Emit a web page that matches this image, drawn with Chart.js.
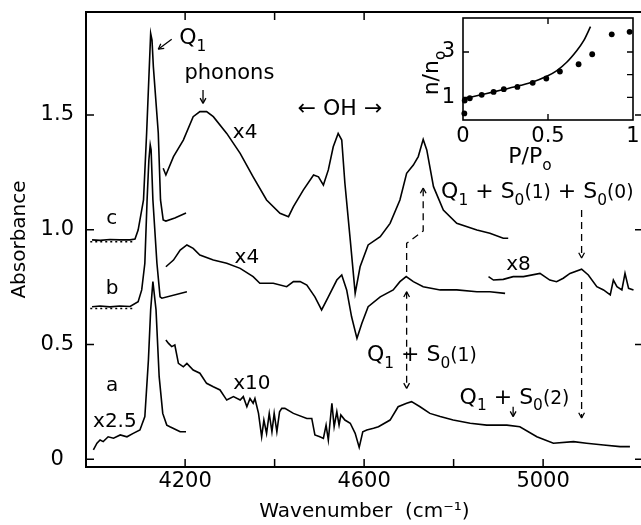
<!DOCTYPE html>
<html>
<head>
<meta charset="utf-8">
<script src="https://cdn.jsdelivr.net/npm/chart.js@4.4.1/dist/chart.umd.min.js"></script>
<style>
  html, body { margin: 0; padding: 0; background: #fff; overflow: hidden; }
  #wrap { position: relative; width: 645px; height: 525px; }
  .box { position: absolute; }
</style>
</head>
<body>
<div id="wrap">
  <div class="box" style="left:0;top:0;width:645px;height:525px"><canvas id="main"></canvas></div>
  <div class="box" style="left:420px;top:14px;width:225px;height:156px"><canvas id="inset"></canvas></div>
</div>
<script>
// spectrum c (top), Q1 peak and x4 part
const cPeakWn = [3992, 4010, 4032, 4054, 4077, 4088, 4095, 4107, 4114, 4120, 4123, 4126, 4129, 4140, 4145, 4151, 4157, 4177, 4202];
const cPeakAbs = [0.956, 0.954, 0.958, 0.956, 0.956, 0.960, 0.999, 1.130, 1.422, 1.711, 1.856, 1.827, 1.711, 1.422, 1.130, 1.043, 1.038, 1.051, 1.073];
const cBaseWn = [3988, 4088];
const cBaseAbs = [0.948, 0.948];
const cX4Wn = [4151, 4157, 4174, 4196, 4218, 4233, 4248, 4263, 4293, 4323, 4352, 4382, 4412, 4431, 4442, 4464, 4487, 4498, 4509, 4520, 4531, 4542, 4550, 4557, 4569, 4580, 4591, 4609, 4636, 4658, 4680, 4695, 4710, 4721, 4732, 4740, 4755, 4777, 4807, 4852, 4881, 4911, 4922];
const cX4Abs = [1.268, 1.239, 1.319, 1.391, 1.493, 1.515, 1.515, 1.493, 1.420, 1.333, 1.231, 1.130, 1.072, 1.057, 1.101, 1.173, 1.239, 1.231, 1.195, 1.261, 1.362, 1.420, 1.391, 1.204, 0.956, 0.723, 0.839, 0.934, 0.970, 1.028, 1.130, 1.246, 1.282, 1.319, 1.394, 1.348, 1.188, 1.086, 1.028, 0.999, 0.985, 0.963, 0.963];

// spectrum b
const bPeakWn = [3992, 4010, 4032, 4054, 4077, 4095, 4103, 4110, 4115, 4119, 4122, 4124, 4128, 4137, 4144, 4148, 4204];
const bPeakAbs = [0.665, 0.668, 0.664, 0.668, 0.666, 0.687, 0.738, 0.854, 1.130, 1.304, 1.370, 1.348, 1.130, 0.854, 0.708, 0.702, 0.730];
const bBaseWn = [3988, 4088];
const bBaseAbs = [0.657, 0.657];
const bX4Wn = [4157, 4174, 4189, 4204, 4218, 4233, 4263, 4293, 4323, 4352, 4367, 4397, 4427, 4442, 4457, 4472, 4490, 4505, 4520, 4539, 4550, 4561, 4572, 4584, 4595, 4609, 4636, 4665, 4680, 4694, 4710, 4732, 4770, 4807, 4852, 4881, 4915];
const bX4Abs = [0.839, 0.868, 0.912, 0.934, 0.919, 0.890, 0.868, 0.854, 0.832, 0.796, 0.767, 0.767, 0.752, 0.774, 0.774, 0.759, 0.708, 0.651, 0.708, 0.781, 0.803, 0.738, 0.621, 0.527, 0.593, 0.665, 0.708, 0.738, 0.774, 0.796, 0.774, 0.752, 0.738, 0.738, 0.730, 0.730, 0.723];
const bX8Wn = [4878, 4889, 4911, 4933, 4956, 4993, 5015, 5030, 5045, 5060, 5086, 5101, 5120, 5135, 5150, 5157, 5165, 5176, 5183, 5191, 5202];
const bX8Abs = [0.796, 0.781, 0.784, 0.796, 0.796, 0.810, 0.781, 0.774, 0.789, 0.810, 0.828, 0.803, 0.752, 0.738, 0.716, 0.781, 0.752, 0.738, 0.810, 0.745, 0.738];

// spectrum a
const aPeakWn = [3995, 4003, 4010, 4017, 4028, 4040, 4055, 4070, 4084, 4099, 4110, 4118, 4123, 4128, 4135, 4142, 4150, 4159, 4166, 4181, 4189, 4202];
const aPeakAbs = [0.041, 0.070, 0.084, 0.077, 0.098, 0.092, 0.106, 0.098, 0.113, 0.128, 0.186, 0.433, 0.651, 0.774, 0.651, 0.360, 0.200, 0.149, 0.142, 0.128, 0.120, 0.120];
const aX10Wn = [4157, 4163, 4170, 4177, 4185, 4196, 4204, 4218, 4233, 4248, 4263, 4278, 4293, 4308, 4323, 4330, 4338, 4345, 4352, 4356, 4364, 4371, 4376, 4382, 4388, 4394, 4399, 4405, 4411, 4416, 4423, 4442, 4472, 4483, 4490, 4501, 4509, 4515, 4520, 4528, 4533, 4539, 4544, 4548, 4557, 4569, 4580, 4589, 4597, 4606, 4621, 4632, 4658, 4676, 4695, 4706, 4725, 4747, 4770, 4799, 4837, 4874, 4919, 4948, 4986, 5023, 5068, 5097, 5135, 5172, 5194];
const aX10Abs = [0.520, 0.505, 0.491, 0.498, 0.418, 0.403, 0.418, 0.389, 0.375, 0.331, 0.316, 0.302, 0.258, 0.273, 0.258, 0.273, 0.229, 0.265, 0.244, 0.265, 0.200, 0.098, 0.171, 0.113, 0.200, 0.120, 0.200, 0.120, 0.207, 0.222, 0.222, 0.200, 0.178, 0.178, 0.106, 0.098, 0.091, 0.149, 0.084, 0.244, 0.142, 0.207, 0.149, 0.193, 0.171, 0.157, 0.113, 0.052, 0.120, 0.128, 0.135, 0.142, 0.171, 0.229, 0.244, 0.251, 0.229, 0.200, 0.186, 0.171, 0.157, 0.149, 0.149, 0.142, 0.098, 0.070, 0.077, 0.070, 0.062, 0.055, 0.055];

// inset: n/no against P/Po
const insetP = [0.008, 0.01, 0.04, 0.11, 0.18, 0.24, 0.32, 0.41, 0.49, 0.57, 0.68, 0.76, 0.875, 0.98];
const insetN = [0.29, 0.86, 0.96, 1.11, 1.24, 1.36, 1.46, 1.64, 1.83, 2.14, 2.46, 2.90, 3.78, 3.89];
const fitP = [0, 0.10, 0.18, 0.26, 0.34, 0.41, 0.49, 0.55, 0.61, 0.67, 0.71, 0.75];
const fitN = [0.93, 1.10, 1.24, 1.38, 1.53, 1.68, 1.92, 2.17, 2.55, 3.07, 3.50, 4.12];

// ticks
const xTickValues = [4200, 4400, 4600, 4800, 5000];
const xTickLabels = ['4200', '', '4600', '', '5000'];
const xTopTicks = [4200, 4400, 4600];
const yTickValues = [0, 0.5, 1.0, 1.5];
const yTickLabels = ['0', '0.5', '1.0', '1.5'];
const insetXTicks = [0, 0.5, 1];
const insetXLabels = ['0', '0.5', '1'];
const insetYTicks = [1, 3];
const insetYLabels = ['1', '3'];
const insetYRightTicks = [1, 2, 3];

const FONT = '"DejaVu Sans", sans-serif';
const pts = (xs, ys) => xs.map((v, i) => ({ x: v, y: ys[i] }));

// annotation text and arrows, placed in data units
const notes = [
  { x: 4217, y: 1.843, size: 22, parts: [['Q'], ['1', 'sub']] },
  { x: 4299, y: 1.692, size: 21, parts: [['phonons']] },
  { x: 4334, y: 1.430, size: 20, parts: [['x4']] },
  { x: 4546, y: 1.535, size: 22, parts: [['← OH →']] },
  { x: 4036, y: 1.057, size: 20, parts: [['c']] },
  { x: 4037, y: 0.752, size: 20, parts: [['b']] },
  { x: 4037, y: 0.331, size: 20, parts: [['a']] },
  { x: 4043, y: 0.171, size: 20, parts: [['x2.5']] },
  { x: 4338, y: 0.886, size: 20, parts: [['x4']] },
  { x: 4349, y: 0.338, size: 20, parts: [['x10']] },
  { x: 4945, y: 0.854, size: 20, parts: [['x8']] },
  { x: 4987, y: 1.173, size: 22, parts: [['Q'], ['1', 'sub'], [' + S'], ['0', 'sub'], ['(1)', 'sm'], [' + S'], ['0', 'sub'], ['(0)', 'sm']] },
  { x: 4729, y: 0.463, size: 22, parts: [['Q'], ['1', 'sub'], [' + S'], ['0', 'sub'], ['(1)', 'sm']] },
  { x: 4936, y: 0.276, size: 22, parts: [['Q'], ['1', 'sub'], [' + S'], ['0', 'sub'], ['(2)', 'sm']] }
];
const guides = [
  { pts: [[4695, 0.816], [4695, 0.941], [4732, 0.995], [4732, 1.182]] },
  { pts: [[4695, 0.730], [4695, 0.309]], both: true },
  { pts: [[5086, 1.086], [5086, 0.877]] },
  { pts: [[5086, 0.773], [5086, 0.180]] }
];
const arrows = [
  { from: [4170, 1.830], to: [4140, 1.787] },
  { from: [4240, 1.609], to: [4240, 1.551] },
  { from: [4933, 0.229], to: [4933, 0.186] }
];

function drawRich(ctx, parts, cx, cy, size) {
  const sizes = parts.map(p => p[1] === 'sub' ? size * 0.7 : p[1] === 'sm' ? size * 0.85 : size);
  let w = 0;
  parts.forEach((p, i) => { ctx.font = sizes[i] + 'px ' + FONT; w += ctx.measureText(p[0]).width; });
  let x = cx - w / 2;
  const base = cy + size * 0.36;
  ctx.textAlign = 'left';
  ctx.textBaseline = 'alphabetic';
  parts.forEach((p, i) => {
    ctx.font = sizes[i] + 'px ' + FONT;
    ctx.fillText(p[0], x, base + (p[1] === 'sub' ? size * 0.3 : 0));
    x += ctx.measureText(p[0]).width;
  });
}

function head(ctx, tx, ty, fx, fy, len) {
  const ang = Math.atan2(ty - fy, tx - fx);
  ctx.beginPath();
  [-1, 1].forEach(s => {
    const a = ang + Math.PI + s * 0.5;
    ctx.moveTo(tx, ty);
    ctx.lineTo(tx + len * Math.cos(a), ty + len * Math.sin(a));
  });
  ctx.stroke();
}

// keep the plot box where it is: no extra room for half tick labels
const noPad = s => { s.paddingTop = 0; s.paddingBottom = 0; s.paddingLeft = 0; s.paddingRight = 0; };

const mainDecor = {
  id: 'mainDecor',
  afterDraw(chart) {
    const { ctx, chartArea: a, scales: { x, y } } = chart;
    const px = v => x.getPixelForValue(v);
    const py = v => y.getPixelForValue(v);
    ctx.save();
    ctx.strokeStyle = '#000';
    ctx.fillStyle = '#000';
    ctx.lineWidth = 2;
    ctx.strokeRect(a.left, a.top, a.right - a.left, a.bottom - a.top);

    ctx.lineWidth = 1.5;
    ctx.beginPath();
    xTickValues.forEach(v => { ctx.moveTo(px(v), a.bottom); ctx.lineTo(px(v), a.bottom - 8); });
    xTopTicks.forEach(v => { ctx.moveTo(px(v), a.top); ctx.lineTo(px(v), a.top + 8); });
    yTickValues.forEach(v => {
      ctx.moveTo(a.left, py(v)); ctx.lineTo(a.left + 8, py(v));
      ctx.moveTo(a.right, py(v)); ctx.lineTo(a.right - 8, py(v));
    });
    ctx.stroke();

    ctx.lineWidth = 1.3;
    guides.forEach(g => {
      const p = g.pts.map(q => [px(q[0]), py(q[1])]);
      ctx.setLineDash([7, 5]);
      ctx.beginPath();
      p.forEach((q, i) => i ? ctx.lineTo(q[0], q[1]) : ctx.moveTo(q[0], q[1]));
      ctx.stroke();
      ctx.setLineDash([]);
      const n = p.length;
      head(ctx, p[n - 1][0], p[n - 1][1], p[n - 2][0], p[n - 2][1], 6);
      if (g.both) head(ctx, p[0][0], p[0][1], p[1][0], p[1][1], 6);
    });
    arrows.forEach(r => {
      const f = [px(r.from[0]), py(r.from[1])];
      const t = [px(r.to[0]), py(r.to[1])];
      ctx.beginPath(); ctx.moveTo(f[0], f[1]); ctx.lineTo(t[0], t[1]); ctx.stroke();
      head(ctx, t[0], t[1], f[0], f[1], 6);
    });

    notes.forEach(nt => drawRich(ctx, nt.parts, px(nt.x), py(nt.y), nt.size));
    ctx.restore();
  }
};

const insetDecor = {
  id: 'insetDecor',
  afterDraw(chart) {
    const { ctx, chartArea: a, scales: { x, y } } = chart;
    ctx.save();
    ctx.strokeStyle = '#000';
    ctx.fillStyle = '#000';
    ctx.lineWidth = 1.6;
    ctx.strokeRect(a.left, a.top, a.right - a.left, a.bottom - a.top);
    ctx.lineWidth = 1.4;
    ctx.beginPath();
    [0.5].forEach(v => {
      const p = x.getPixelForValue(v);
      ctx.moveTo(p, a.bottom); ctx.lineTo(p, a.bottom - 6);
      ctx.moveTo(p, a.top); ctx.lineTo(p, a.top + 6);
    });
    insetYTicks.forEach(v => { const p = y.getPixelForValue(v); ctx.moveTo(a.left, p); ctx.lineTo(a.left + 6, p); });
    insetYRightTicks.forEach(v => { const p = y.getPixelForValue(v); ctx.moveTo(a.right, p); ctx.lineTo(a.right - 6, p); });
    ctx.stroke();

    drawRich(ctx, [['P/P'], ['o', 'sub']], a.left + 67, a.bottom + 35, 22);
    ctx.translate(a.left - 33, a.top + 55);
    ctx.rotate(-Math.PI / 2);
    drawRich(ctx, [['n/n'], ['o', 'sub']], 0, 0, 22);
    ctx.restore();
  }
};

const curve = (xs, ys, dash) => ({
  data: pts(xs, ys),
  showLine: true,
  pointRadius: 0,
  borderColor: '#000',
  borderWidth: dash ? 1.5 : 1.6,
  borderDash: dash || [],
  tension: 0
});

const tickFont = { family: FONT, size: 21 };

new Chart(document.getElementById('main'), {
  type: 'scatter',
  data: {
    datasets: [
      curve(cBaseWn, cBaseAbs, [2, 3]),
      curve(bBaseWn, bBaseAbs, [2, 3]),
      curve(cPeakWn, cPeakAbs),
      curve(cX4Wn, cX4Abs),
      curve(bPeakWn, bPeakAbs),
      curve(bX4Wn, bX4Abs),
      curve(bX8Wn, bX8Abs),
      curve(aPeakWn, aPeakAbs),
      curve(aX10Wn, aX10Abs)
    ]
  },
  options: {
    animation: false,
    responsive: true,
    maintainAspectRatio: false,
    layout: { padding: { top: 12, right: 2, left: 0, bottom: 0 } },
    plugins: { legend: { display: false }, tooltip: { enabled: false } },
    scales: {
      x: {
        type: 'linear', min: 3978.5, max: 5223.2,
        grid: { display: false, drawTicks: false },
        border: { display: false },
        afterBuildTicks: s => { s.ticks = xTickValues.map(v => ({ value: v })); },
        afterFit: s => { s.height = 58; noPad(s); },
        ticks: {
          padding: 2, color: '#000', font: tickFont, maxRotation: 0, autoSkip: false,
          callback: v => { const i = xTickValues.indexOf(v); return i >= 0 ? xTickLabels[i] : ''; }
        },
        title: { display: true, text: 'Wavenumber  (cm⁻¹)', color: '#000', font: { family: FONT, size: 20 }, padding: { top: 0, bottom: 1 } }
      },
      y: {
        type: 'linear', min: -0.0336, max: 1.949,
        grid: { display: false, drawTicks: false },
        border: { display: false },
        afterBuildTicks: s => { s.ticks = yTickValues.map(v => ({ value: v })); },
        afterFit: s => { s.width = 86; noPad(s); },
        ticks: {
          padding: 12, crossAlign: 'center', color: '#000', font: tickFont,
          callback: v => { const i = yTickValues.indexOf(v); return i >= 0 ? yTickLabels[i] : ''; }
        },
        title: { display: true, text: 'Absorbance', color: '#000', font: { family: FONT, size: 20 }, padding: { top: 8, bottom: 0 } }
      }
    }
  },
  plugins: [mainDecor]
});

new Chart(document.getElementById('inset'), {
  type: 'scatter',
  data: {
    datasets: [
      { data: pts(fitP, fitN), showLine: true, pointRadius: 0, borderColor: '#000', borderWidth: 1.6, tension: 0.3 },
      { data: pts(insetP, insetN), pointRadius: 2.9, backgroundColor: '#000', borderColor: '#000', borderWidth: 0, clip: false }
    ]
  },
  options: {
    animation: false,
    responsive: true,
    maintainAspectRatio: false,
    layout: { padding: { top: 1, right: 12, left: 0, bottom: 0 } },
    plugins: { legend: { display: false }, tooltip: { enabled: false } },
    scales: {
      x: {
        type: 'linear', min: 0, max: 1,
        grid: { display: false, drawTicks: false },
        border: { display: false },
        afterBuildTicks: s => { s.ticks = insetXTicks.map(v => ({ value: v })); },
        afterFit: s => { s.height = 50; noPad(s); },
        ticks: {
          padding: 4, color: '#000', font: tickFont, maxRotation: 0, autoSkip: false,
          callback: v => { const i = insetXTicks.indexOf(v); return i >= 0 ? insetXLabels[i] : ''; }
        }
      },
      y: {
        type: 'linear', min: 0, max: 4.5,
        grid: { display: false, drawTicks: false },
        border: { display: false },
        afterBuildTicks: s => { s.ticks = insetYTicks.map(v => ({ value: v })); },
        afterFit: s => { s.width = 43; noPad(s); },
        ticks: {
          padding: 8, color: '#000', font: tickFont,
          callback: v => { const i = insetYTicks.indexOf(v); return i >= 0 ? insetYLabels[i] : ''; }
        }
      }
    }
  },
  plugins: [insetDecor]
});
</script>
</body>
</html>
